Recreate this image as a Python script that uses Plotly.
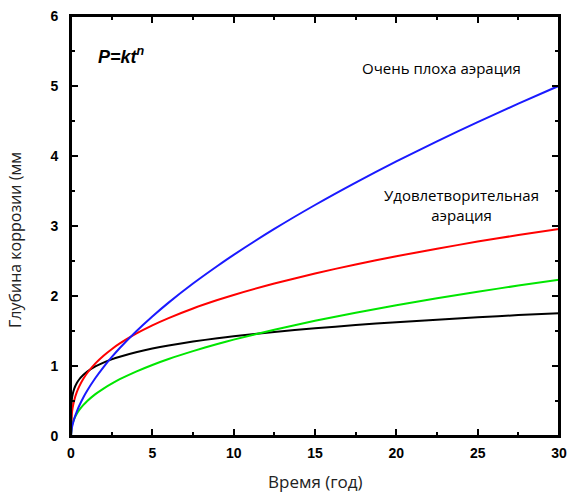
import plotly.graph_objects as go

# time (years)
t = [0, 0.05, 0.1, 0.2, 0.35, 0.5, 0.75, 1, 1.5, 2, 2.5, 3, 4, 5, 6, 7.5, 9, 10,
     12.5, 15, 17.5, 20, 22.5, 25, 27.5, 30]

# corrosion depth (mm)
very_poor = [0, 0.108, 0.163, 0.248, 0.346, 0.429, 0.547, 0.65, 0.829, 0.985, 1.126,
             1.257, 1.493, 1.707, 1.905, 2.178, 2.429, 2.588, 2.958, 3.300, 3.620,
             3.922, 4.210, 4.484, 4.748, 5.003]
satisfactory = [0, 0.315, 0.402, 0.512, 0.623, 0.706, 0.814, 0.90, 1.037, 1.147, 1.240,
                1.322, 1.462, 1.581, 1.685, 1.822, 1.942, 2.015, 2.178, 2.322, 2.451,
                2.568, 2.676, 2.777, 2.871, 2.959]
green_series = [0, 0.134, 0.182, 0.246, 0.315, 0.369, 0.440, 0.50, 0.598, 0.678, 0.748,
                0.811, 0.920, 1.015, 1.100, 1.213, 1.315, 1.377, 1.519, 1.646, 1.761,
                1.868, 1.967, 2.061, 2.149, 2.233]
black_series = [0, 0.521, 0.594, 0.678, 0.753, 0.807, 0.871, 0.92, 0.994, 1.049, 1.095,
                1.133, 1.197, 1.249, 1.293, 1.349, 1.397, 1.425, 1.487, 1.539, 1.585,
                1.626, 1.662, 1.696, 1.727, 1.755]

x_ticks = [0, 5, 10, 15, 20, 25, 30]
y_ticks = [0, 1, 2, 3, 4, 5, 6]

fig = go.Figure()
for ys, col in [(black_series, "black"), (green_series, "#00e600"),
                (satisfactory, "#ff0000"), (very_poor, "#1a1aff")]:
    fig.add_trace(go.Scatter(x=t, y=ys, mode="lines",
                             line=dict(color=col, width=2, shape="spline", smoothing=0.6),
                             showlegend=False, hoverinfo="skip"))
# reference the top/right frame axes (no visible line) so that they are drawn
fig.add_trace(go.Scatter(x=t, y=black_series, mode="lines", xaxis="x2", yaxis="y2",
                         line=dict(color="rgba(0,0,0,0)", width=0),
                         showlegend=False, hoverinfo="skip"))

tick_style = dict(showline=True, linecolor="black", linewidth=2,
                  ticks="inside", ticklen=7, tickwidth=2, tickcolor="black",
                  showgrid=False, zeroline=False, automargin=False)
tfont = dict(family="Liberation Sans, Arial", size=14, color="black", weight="bold")
x_minor = dict(ticks="inside", ticklen=4, tickwidth=2, tickcolor="black", dtick=2.5)
y_minor = dict(ticks="inside", ticklen=4, tickwidth=2, tickcolor="black", dtick=0.5)

fig.update_layout(
    xaxis=dict(range=[0, 30], tickvals=x_ticks, ticktext=[str(v) for v in x_ticks],
               minor=x_minor, ticklabelstandoff=3, tickfont=tfont, **tick_style),
    yaxis=dict(range=[0, 6], tickvals=y_ticks, ticktext=[str(v) for v in y_ticks],
               minor=y_minor, ticklabelstandoff=8, tickfont=tfont, **tick_style),
    xaxis2=dict(overlaying="x", side="top", anchor="y2", range=[0, 30], tickvals=x_ticks,
                showticklabels=False, minor=x_minor, **tick_style),
    yaxis2=dict(overlaying="y", side="right", anchor="x2", range=[0, 6], tickvals=y_ticks,
                showticklabels=False, minor=y_minor, **tick_style),
)
# frame around the plot area
fig.add_shape(type="rect", xref="paper", yref="paper", x0=0, y0=0, x1=1, y1=1,
              line=dict(color="black", width=2), layer="above")

W, H = 572, 492
ml, mr, mt, mb = 71, 13, 16, 56
pw, ph = W - ml - mr, H - mt - mb


def px(xp, yp):
    return (xp - ml) / pw, 1 - (yp - mt) / ph


label_font = dict(family="Open Sans, DejaVu Sans", color="#222")

ax, ay = px(315, 481)
fig.add_annotation(text="Время (год)", x=ax, y=ay, xref="paper", yref="paper",
                   xanchor="center", yanchor="middle", showarrow=False,
                   font=dict(size=17, **label_font))
ax, ay = px(15, 240)
fig.add_annotation(text="Глубина коррозии (мм", x=ax, y=ay, xref="paper", yref="paper",
                   xanchor="center", yanchor="middle", showarrow=False, textangle=-90,
                   font=dict(size=16, **label_font))
ax, ay = px(96, 55)
fig.add_annotation(text="<b><i>P=kt<sup>n</sup></i></b>", x=ax, y=ay, xref="paper", yref="paper",
                   xanchor="left", yanchor="middle", showarrow=False,
                   font=dict(family="Liberation Sans, Arial", size=18, color="black"))
ax, ay = px(441, 68)
fig.add_annotation(text="Очень плоха аэрация", x=ax, y=ay, xref="paper", yref="paper",
                   xanchor="center", yanchor="middle", showarrow=False,
                   font=dict(family="Open Sans, DejaVu Sans", size=15, color="black"))
ax, ay = px(461, 205)
fig.add_annotation(text="Удовлетворительная<br>аэрация", x=ax, y=ay, xref="paper", yref="paper",
                   xanchor="center", yanchor="middle", showarrow=False,
                   font=dict(family="Open Sans, DejaVu Sans", size=15, color="black"))

fig.update_layout(width=W, height=H, margin=dict(l=ml, r=mr, t=mt, b=mb),
                  plot_bgcolor="white", paper_bgcolor="white")
fig.write_html("out.html", config={"displayModeBar": False},
               post_script="document.body.style.margin='0px';document.body.style.overflow='hidden';")
